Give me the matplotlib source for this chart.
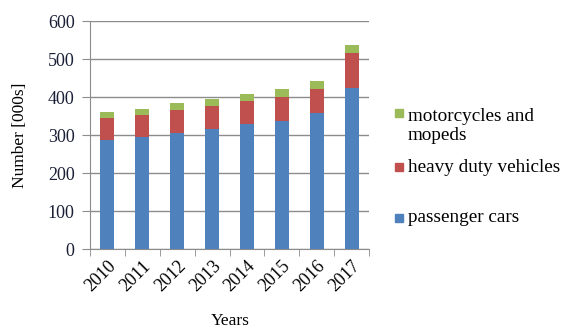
import numpy as np
import matplotlib.pyplot as plt
from matplotlib.patches import Rectangle

# Vehicle stock by year, thousands
years = ["2010", "2011", "2012", "2013", "2014", "2015", "2016", "2017"]
passenger_cars = [288, 294, 306, 316, 329, 338, 358, 425]
heavy_duty = [57, 59, 60, 60, 60, 63, 62, 92]
motorcycles = [15, 16, 19, 18, 19, 19, 22, 19]

series_labels = ["motorcycles and\nmopeds", "heavy duty vehicles", "passenger cars"]
blue = "#4F81BD"
red = "#C0504D"
green = "#9BBB59"
serif = "Liberation Serif"

fig = plt.figure(figsize=(5.71, 3.30), dpi=100)
ax = fig.add_axes([90 / 571, 1 - 249 / 330, 279 / 571, 228 / 330])

x = np.arange(len(years))
cars = np.array(passenger_cars)
heavy = np.array(heavy_duty)
moto = np.array(motorcycles)

w = 0.4
ax.bar(x, cars, w, color=blue, zorder=3)
ax.bar(x, heavy, w, bottom=cars, color=red, zorder=3)
ax.bar(x, moto, w, bottom=cars + heavy, color=green, zorder=3)

ax.set_xlim(-0.5, len(years) - 0.5)
ax.set_ylim(0, 600)
ax.set_yticks(range(0, 601, 100))
ax.yaxis.grid(True, color="#8c8c8c", linewidth=1.0, zorder=0)
ax.set_axisbelow(True)

for side in ["top", "right"]:
    ax.spines[side].set_visible(False)
ax.spines["left"].set_color("#8c8c8c")
ax.spines["bottom"].set_color("#8c8c8c")

ax.tick_params(axis="y", length=6, color="#8c8c8c", pad=5,
               labelsize=13, labelcolor="#1a1f36")
for lbl in ax.get_yticklabels():
    lbl.set_fontfamily(serif)

# year labels at bar centres, tick marks at category borders
ax.set_xticks(x)
ax.set_xticklabels(years, rotation=45, ha="right", va="top",
                   rotation_mode="anchor", family=serif, fontsize=13)
ax.tick_params(axis="x", which="major", length=0, pad=6)
ax.set_xticks(np.arange(-0.5, len(years)), minor=True)
ax.tick_params(axis="x", which="minor", length=5, color="#8c8c8c")

fig.text(20 / 571, 1 - 135 / 330, "Number [000s]", rotation=90,
         ha="center", va="center", family=serif, fontsize=12.5)
fig.text(230 / 571, 1 - 321 / 330, "Years", ha="center", va="center",
         family=serif, fontsize=12.5)

# legend drawn by hand to keep the spacing
legend_items = [(green, 109, 120.5), (red, 162.5, 171.5), (blue, 213.5, 222.5)]
for (col, sq_top, base), text in zip(legend_items, series_labels):
    fig.add_artist(Rectangle((395 / 571, 1 - (sq_top + 8) / 330), 8 / 571, 8 / 330,
                             transform=fig.transFigure, color=col))
    lines = text.split("\n")
    for i, line in enumerate(lines):
        fig.text(408 / 571, 1 - (base + 20 * i) / 330, line, ha="left",
                 va="baseline", family=serif, fontsize=13.8)

fig.savefig("out.png", dpi=100)
